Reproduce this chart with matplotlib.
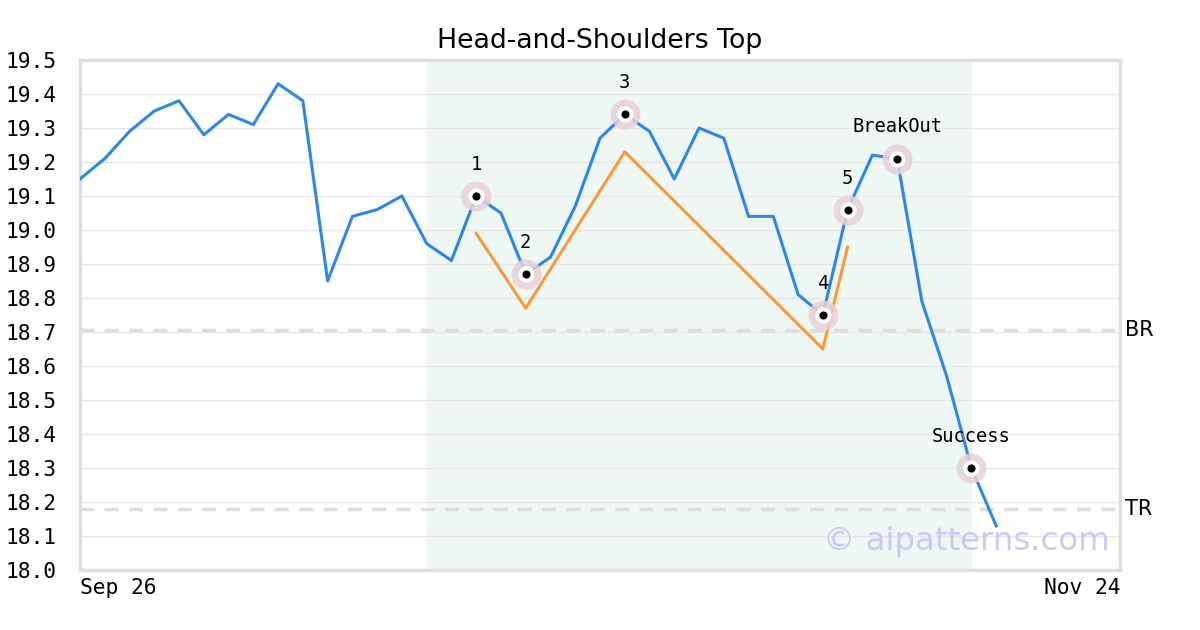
import matplotlib
matplotlib.use("Agg")
import matplotlib.pyplot as plt

# price series (one value per trading day, index 0 = Sep 26)
price = [19.15, 19.21, 19.29, 19.35, 19.38, 19.28, 19.34, 19.31, 19.43, 19.38,
         18.85, 19.04, 19.06, 19.10, 18.96, 18.91, 19.10, 19.05, 18.87, 18.92,
         19.07, 19.27, 19.34, 19.29, 19.15, 19.30, 19.27, 19.04, 19.04, 18.81,
         18.75, 19.06, 19.22, 19.21, 18.79, 18.57, 18.30, 18.13]

# pattern outline (orange)
pat_x = [16, 18, 22, 30, 31]
pat_y = [18.99, 18.77, 19.23, 18.65, 18.95]

# marked points
mark_x = [16, 18, 22, 30, 31, 33, 36]
mark_lbl = ["1", "2", "3", "4", "5", "BreakOut", "Success"]

shade_from, shade_to = 14, 36
br_level = 18.705
tr_level = 18.18
x_last = 42
tick_lbls = ["Sep 26", "Nov 24"]

fig = plt.figure(figsize=(12, 6.3), dpi=100)
ax = fig.add_axes([80/1200, 60/630, 1040/1200, 510/630])

ax.axvspan(shade_from, shade_to, color="#eff7f4", zorder=0)
for v in [18.1 + 0.1*i for i in range(14)]:
    ax.axhline(v, color="#e6e6e6", lw=1, zorder=1)
ax.axhline(br_level, color="#dddddd", lw=2.5, ls=(0, (4, 3)), zorder=1)
ax.axhline(tr_level, color="#dddddd", lw=2.5, ls=(0, (4, 3)), zorder=1)

ax.plot(range(len(price)), price, color="#2e86e8", lw=2.2, zorder=3)
ax.plot(pat_x, pat_y, color="#f79a3e", lw=2.2, zorder=3)

my = [price[i] for i in mark_x]
ax.scatter(mark_x, my, s=470, color="#e6d2d8", alpha=0.85, zorder=4, lw=0)
ax.scatter(mark_x, my, s=135, color="white", zorder=5, lw=0)
ax.scatter(mark_x, my, s=34, color="black", zorder=6, lw=0)
for x, y, t in zip(mark_x, my, mark_lbl):
    ax.text(x, y + 0.065, t, ha="center", va="bottom", fontsize=13.5,
            family="DejaVu Sans Mono", zorder=7)

ax.set_xlim(0, x_last)
ax.set_ylim(18.0, 19.5)
ax.set_yticks([18.0 + 0.1*i for i in range(16)])
ax.set_yticklabels(["%.1f" % (18.0 + 0.1*i) for i in range(16)],
                   family="DejaVu Sans Mono", fontsize=15.3)
ax.set_xticks([0, x_last])
xl = ax.set_xticklabels(tick_lbls, family="DejaVu Sans Mono", fontsize=15.3)
xl[0].set_ha("left")
xl[1].set_ha("right")
ax.tick_params(length=0)
ax.tick_params(axis="x", pad=6)
ax.tick_params(axis="y", pad=17)
for s in ax.spines.values():
    s.set_color("#dddddd")
    s.set_linewidth(2.5)

ax.text(1.005, br_level, "BR", transform=ax.get_yaxis_transform(),
        va="center", ha="left", fontsize=15)
ax.text(1.005, tr_level, "TR", transform=ax.get_yaxis_transform(),
        va="center", ha="left", fontsize=15)
ax.text(0.99, 0.055, "\u00a9 aipatterns.com", transform=ax.transAxes,
        ha="right", va="center", fontsize=23.3, color="#c8c8fa", zorder=2)

ax.set_title("Head-and-Shoulders Top", fontsize=19.3, pad=9)

fig.savefig("out.png", dpi=100)
